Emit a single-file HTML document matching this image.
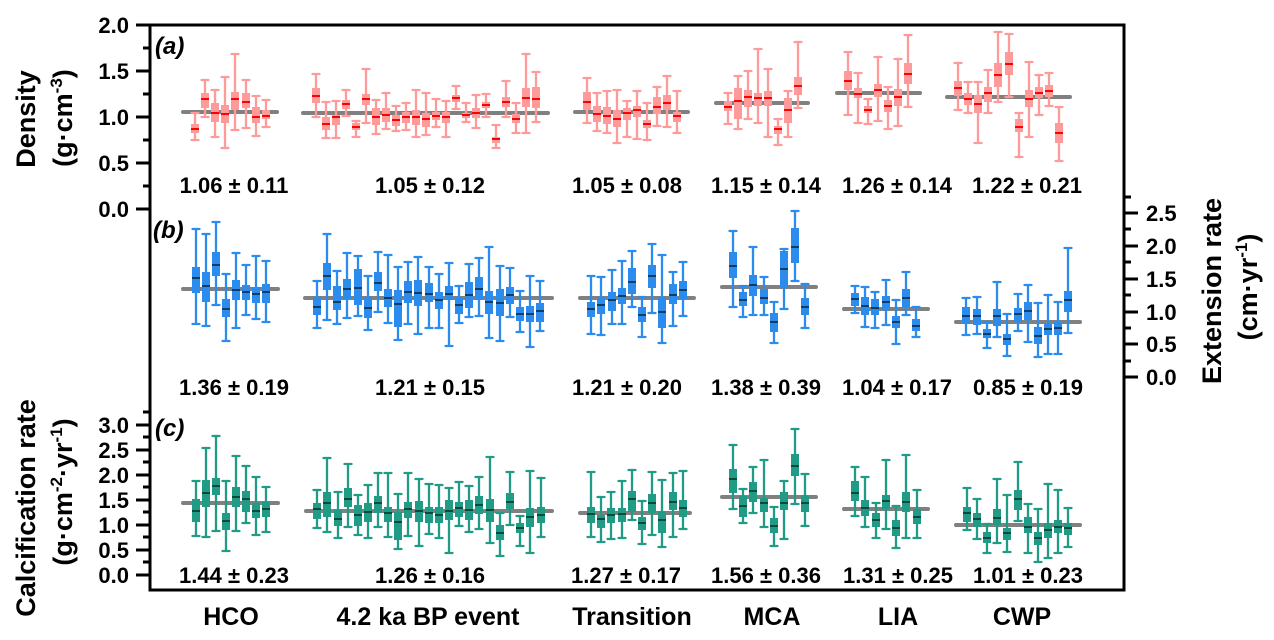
<!DOCTYPE html>
<html><head><meta charset="utf-8"><style>
html,body{margin:0;padding:0;background:#fff;}
svg{display:block;}
text{font-family:"Liberation Sans",Arial,sans-serif;font-weight:bold;fill:#000;}
.t{font-size:22px;}
.tx{font-size:25px;}
.ti{font-size:27px;}
.pl{font-size:24px;font-style:italic;}
.g{stroke:#808080;stroke-width:4;stroke-linecap:round;fill:none;}
.wa{stroke:#ff9a9a;stroke-width:2.3;fill:none;stroke-linecap:round;}
.ba{fill:#ff9a9a;}
.ma{stroke:#ff0000;stroke-width:2;fill:none;}
.wb{stroke:#2b8cee;stroke-width:2.3;fill:none;stroke-linecap:round;}
.bb{fill:#2b8cee;}
.mb{stroke:#0f3d66;stroke-width:2;fill:none;}
.wc{stroke:#1f9b86;stroke-width:2.3;fill:none;stroke-linecap:round;}
.bc{fill:#1f9b86;}
.mc{stroke:#0a4a3b;stroke-width:2;fill:none;}
</style></head><body>
<svg width="1274" height="640" viewBox="0 0 1274 640" xmlns="http://www.w3.org/2000/svg">
<rect x="0" y="0" width="1274" height="640" fill="#fff"/>

<!-- mean lines -->
<path class="g" d="M183 112H277M303 113H548M575 112H688M716 103H808M837 93H920M947 97H1070"/>
<path class="g" d="M183 289H278M305 298H552M580 298H694M722 287H816M844 309H928M956 322H1080"/>
<path class="g" d="M183 503H278M306 511H552M580 513H690M722 497H816M844 509H928M956 525H1080"/>

<!-- Panel a -->
<path class="wa" d="M195 113V140M191.5 113h7M191.5 140h7M205 80V117M201.5 80h7M201.5 117h7M215 90V137M211.5 90h7M211.5 137h7M225 77V148M221.5 77h7M221.5 148h7M235 54V130M231.5 54h7M231.5 130h7M246 80V128M242.5 80h7M242.5 128h7M256 96V136M252.5 96h7M252.5 136h7M266 100V127M262.5 100h7M262.5 127h7
M316 74V117M312.5 74h7M312.5 117h7M326 102V138M322.5 102h7M322.5 138h7M336 101V138M332.5 101h7M332.5 138h7M346 90V116M342.5 90h7M342.5 116h7M356 121V137M352.5 121h7M352.5 137h7M366 69V123M362.5 69h7M362.5 123h7M376 100V134M372.5 100h7M372.5 134h7M386 93V129M382.5 93h7M382.5 129h7M396 106V131M392.5 106h7M392.5 131h7M406 103V130M402.5 103h7M402.5 130h7M416 90V137M412.5 90h7M412.5 137h7M426 93V135M422.5 93h7M422.5 135h7M436 99V127M432.5 99h7M432.5 127h7M446 101V137M442.5 101h7M442.5 137h7M456 86V109M452.5 86h7M452.5 109h7M466 103V122M462.5 103h7M462.5 122h7M476 95V128M472.5 95h7M472.5 128h7M486 94V117M482.5 94h7M482.5 117h7M496 125V148M492.5 125h7M492.5 148h7M506 81V117M502.5 81h7M502.5 117h7M516 103V133M512.5 103h7M512.5 133h7M526 54V133M522.5 54h7M522.5 133h7M536 72V122M532.5 72h7M532.5 122h7
M587 78V123M583.5 78h7M583.5 123h7M597 93V131M593.5 93h7M593.5 131h7M607 91V133M603.5 91h7M603.5 133h7M617 90V143M613.5 90h7M613.5 143h7M627 101V137M623.5 101h7M623.5 137h7M637 91V139M633.5 91h7M633.5 139h7M647 103V140M643.5 103h7M643.5 140h7M657 87V126M653.5 87h7M653.5 126h7M667 76V127M663.5 76h7M663.5 127h7M677 91V133M673.5 91h7M673.5 133h7
M728 93V124M724.5 93h7M724.5 124h7M738 76V129M734.5 76h7M734.5 129h7M748 71V119M744.5 71h7M744.5 119h7M758 49V123M754.5 49h7M754.5 123h7M768 69V137M764.5 69h7M764.5 137h7M778 119V145M774.5 119h7M774.5 145h7M788 91V137M784.5 91h7M784.5 137h7M798 42V108M794.5 42h7M794.5 108h7
M848 52V115M844.5 52h7M844.5 115h7M858 73V123M854.5 73h7M854.5 123h7M868 99V124M864.5 99h7M864.5 124h7M878 57V121M874.5 57h7M874.5 121h7M888 87V129M884.5 87h7M884.5 129h7M898 59V126M894.5 59h7M894.5 126h7M908 35V107M904.5 35h7M904.5 107h7
M958 63V110M954.5 63h7M954.5 110h7M968 82V113M964.5 82h7M964.5 113h7M978 82V143M974.5 82h7M974.5 143h7M988 70V113M984.5 70h7M984.5 113h7M998 32V102M994.5 32h7M994.5 102h7M1009 34V97M1005.5 34h7M1005.5 97h7M1019 113V157M1015.5 113h7M1015.5 157h7M1029 62V137M1025.5 62h7M1025.5 137h7M1039 75V115M1035.5 75h7M1035.5 115h7M1049 73V106M1045.5 73h7M1045.5 106h7M1059 107V161M1055.5 107h7M1055.5 161h7"/>
<path class="ba" d="M191 124h8V133h-8zM201 93h8V108h-8zM211 103h8V122h-8zM221 105h8V123h-8zM231 92h8V110h-8zM242 93h8V108h-8zM252 107h8V123h-8zM262 110h8V119h-8z
M312 88h8V103h-8zM322 117h8V130h-8zM332 115h8V125h-8zM342 100h8V109h-8zM352 123h8V130h-8zM362 94h8V105h-8zM372 108h8V125h-8zM382 108h8V122h-8zM392 115h8V126h-8zM402 112h8V123h-8zM412 110h8V125h-8zM422 113h8V127h-8zM432 112h8V120h-8zM442 112h8V123h-8zM452 95h8V102h-8zM462 113h8V118h-8zM472 108h8V118h-8zM482 102h8V108h-8zM492 137h8V143h-8zM502 97h8V107h-8zM512 114h8V123h-8zM522 88h8V107h-8zM532 87h8V108h-8z
M583 92h8V110h-8zM593 106h8V122h-8zM603 107h8V124h-8zM613 110h8V127h-8zM623 108h8V120h-8zM633 106h8V117h-8zM643 120h8V128h-8zM653 97h8V114h-8zM663 95h8V110h-8zM673 112h8V122h-8z
M724 101h8V111h-8zM734 88h8V119h-8zM744 90h8V107h-8zM754 93h8V106h-8zM764 91h8V106h-8zM774 126h8V134h-8zM784 98h8V123h-8zM794 77h8V95h-8z
M844 71h8V90h-8zM854 88h8V98h-8zM864 106h8V113h-8zM874 84h8V97h-8zM884 100h8V112h-8zM894 89h8V106h-8zM904 63h8V84h-8z
M954 81h8V96h-8zM964 93h8V105h-8zM974 95h8V113h-8zM984 87h8V102h-8zM994 63h8V87h-8zM1005 52h8V75h-8zM1015 119h8V132h-8zM1025 90h8V107h-8zM1035 87h8V98h-8zM1045 85h8V97h-8zM1055 123h8V143h-8z"/>
<path class="ma" d="M191 129h8M201 99h8M211 113h8M221 114h8M231 99h8M242 102h8M252 117h8M262 116h8
M312 96h8M322 124h8M332 117h8M342 104h8M352 127h8M362 99h8M372 117h8M382 115h8M392 120h8M402 117h8M412 117h8M422 119h8M432 116h8M442 117h8M452 98h8M462 115h8M472 113h8M482 105h8M492 139h8M502 102h8M512 119h8M522 98h8M532 99h8
M583 102h8M593 114h8M603 116h8M613 119h8M623 113h8M633 110h8M643 124h8M653 107h8M663 103h8M673 116h8
M724 107h8M734 101h8M744 97h8M754 98h8M764 98h8M774 129h8M784 110h8M794 86h8
M844 81h8M854 94h8M864 110h8M874 90h8M884 106h8M894 97h8M904 74h8
M954 88h8M964 99h8M974 104h8M984 93h8M994 75h8M1005 64h8M1015 127h8M1025 99h8M1035 93h8M1045 91h8M1055 133h8"/>

<!-- Panel b -->
<path class="wb" d="M196 229V324M192.5 229h7M192.5 324h7M206 234V326M202.5 234h7M202.5 326h7M216 222V305M212.5 222h7M212.5 305h7M226 274V341M222.5 274h7M222.5 341h7M236 253V328M232.5 253h7M232.5 328h7M246 265V315M242.5 265h7M242.5 315h7M256 256V319M252.5 256h7M252.5 319h7M266 261V322M262.5 261h7M262.5 322h7
M317 281V328M313.5 281h7M313.5 328h7M327 234V320M323.5 234h7M323.5 320h7M337 271V324M333.5 271h7M333.5 324h7M347 253V318M343.5 253h7M343.5 318h7M358 256V316M354.5 256h7M354.5 316h7M368 276V330M364.5 276h7M364.5 330h7M378 252V312M374.5 252h7M374.5 312h7M388 255V323M384.5 255h7M384.5 323h7M398 267V340M394.5 267h7M394.5 340h7M408 262V324M404.5 262h7M404.5 324h7M418 257V334M414.5 257h7M414.5 334h7M429 267V328M425.5 267h7M425.5 328h7M439 274V328M435.5 274h7M435.5 328h7M449 263V346M445.5 263h7M445.5 346h7M459 286V323M455.5 286h7M455.5 323h7M469 264V317M465.5 264h7M465.5 317h7M479 258V316M475.5 258h7M475.5 316h7M489 247V338M485.5 247h7M485.5 338h7M500 266V341M496.5 266h7M496.5 341h7M510 268V317M506.5 268h7M506.5 317h7M520 291V332M516.5 291h7M516.5 332h7M530 276V347M526.5 276h7M526.5 347h7M540 281V331M536.5 281h7M536.5 331h7
M591 276V334M587.5 276h7M587.5 334h7M601 277V335M597.5 277h7M597.5 335h7M612 270V324M608.5 270h7M608.5 324h7M622 261V324M618.5 261h7M618.5 324h7M632 251V307M628.5 251h7M628.5 307h7M642 297V337M638.5 297h7M638.5 337h7M652 244V313M648.5 244h7M648.5 313h7M662 255V343M658.5 255h7M658.5 343h7M673 272V326M669.5 272h7M669.5 326h7M683 262V316M679.5 262h7M679.5 316h7
M733 231V307M729.5 231h7M729.5 307h7M743 286V317M739.5 286h7M739.5 317h7M753 247V315M749.5 247h7M749.5 315h7M764 277V315M760.5 277h7M760.5 315h7M774 302V343M770.5 302h7M770.5 343h7M784 249V309M780.5 249h7M780.5 309h7M795 211V281M791.5 211h7M791.5 281h7M805 284V328M801.5 284h7M801.5 328h7
M855 286V313M851.5 286h7M851.5 313h7M865 287V327M861.5 287h7M861.5 327h7M875 292V328M871.5 292h7M871.5 328h7M886 280V325M882.5 280h7M882.5 325h7M896 300V344M892.5 300h7M892.5 344h7M906 272V315M902.5 272h7M902.5 315h7M916 307V337M912.5 307h7M912.5 337h7
M966 298V335M962.5 298h7M962.5 335h7M977 297V334M973.5 297h7M973.5 334h7M987 322V348M983.5 322h7M983.5 348h7M997 282V337M993.5 282h7M993.5 337h7M1007 314V356M1003.5 314h7M1003.5 356h7M1018 294V331M1014.5 294h7M1014.5 331h7M1028 285V342M1024.5 285h7M1024.5 342h7M1038 303V357M1034.5 303h7M1034.5 357h7M1048 295V354M1044.5 295h7M1044.5 354h7M1058 302V354M1054.5 302h7M1054.5 354h7M1068 248V333M1064.5 248h7M1064.5 333h7"/>
<path class="bb" d="M192 267h8V293h-8zM202 272h8V302h-8zM212 252h8V276h-8zM222 299h8V317h-8zM232 280h8V300h-8zM242 285h8V300h-8zM252 287h8V303h-8zM262 284h8V303h-8z
M313 297h8V315h-8zM323 263h8V290h-8zM333 286h8V310h-8zM343 279h8V299h-8zM354 269h8V305h-8zM364 297h8V318h-8zM374 272h8V291h-8zM384 289h8V307h-8zM394 290h8V327h-8zM404 281h8V303h-8zM414 280h8V306h-8zM425 283h8V302h-8zM435 292h8V309h-8zM445 286h8V300h-8zM455 297h8V314h-8zM465 282h8V308h-8zM475 277h8V300h-8zM485 291h8V314h-8zM496 289h8V316h-8zM506 287h8V304h-8zM516 307h8V321h-8zM526 306h8V322h-8zM536 303h8V322h-8z
M587 302h8V317h-8zM597 297h8V314h-8zM608 292h8V311h-8zM618 288h8V304h-8zM628 268h8V294h-8zM638 307h8V322h-8zM648 265h8V288h-8zM658 297h8V328h-8zM669 284h8V304h-8zM679 281h8V299h-8z
M729 252h8V278h-8zM739 292h8V306h-8zM749 275h8V296h-8zM760 289h8V304h-8zM770 313h8V332h-8zM780 251h8V288h-8zM791 228h8V263h-8zM801 298h8V315h-8z
M851 293h8V306h-8zM861 297h8V315h-8zM871 299h8V315h-8zM882 296h8V310h-8zM892 316h8V328h-8zM902 289h8V307h-8zM912 319h8V331h-8z
M962 307h8V324h-8zM973 309h8V325h-8zM983 329h8V338h-8zM993 309h8V326h-8zM1003 334h8V345h-8zM1014 308h8V322h-8zM1024 302h8V320h-8zM1034 327h8V344h-8zM1044 324h8V335h-8zM1054 322h8V335h-8zM1064 291h8V312h-8z"/>
<path class="mb" d="M192 278h8M202 286h8M212 265h8M222 309h8M232 290h8M242 292h8M252 294h8M262 292h8
M313 307h8M323 276h8M333 302h8M343 289h8M354 288h8M364 308h8M374 283h8M384 298h8M394 304h8M404 292h8M414 293h8M425 294h8M435 300h8M445 294h8M455 305h8M465 295h8M475 289h8M485 302h8M496 303h8M506 295h8M516 314h8M526 314h8M536 311h8
M587 309h8M597 305h8M608 300h8M618 296h8M628 282h8M638 315h8M648 276h8M658 312h8M669 295h8M679 290h8
M729 266h8M739 300h8M749 285h8M760 298h8M770 322h8M780 269h8M791 247h8M801 307h8
M851 299h8M861 306h8M871 308h8M882 302h8M892 322h8M902 298h8M912 326h8
M962 316h8M973 316h8M983 334h8M993 316h8M1003 339h8M1014 314h8M1024 311h8M1034 336h8M1044 329h8M1054 328h8M1064 300h8"/>

<!-- Panel c -->
<path class="wc" d="M196 481V536M192.5 481h7M192.5 536h7M206 448V537M202.5 448h7M202.5 537h7M216 436V531M212.5 436h7M212.5 531h7M226 481V551M222.5 481h7M222.5 551h7M236 456V531M232.5 456h7M232.5 531h7M246 466V523M242.5 466h7M242.5 523h7M256 477V535M252.5 477h7M252.5 535h7M266 487V532M262.5 487h7M262.5 532h7
M317 490V528M313.5 490h7M313.5 528h7M327 458V532M323.5 458h7M323.5 532h7M338 492V538M334.5 492h7M334.5 538h7M348 464V527M344.5 464h7M344.5 527h7M358 495V535M354.5 495h7M354.5 535h7M368 485V538M364.5 485h7M364.5 538h7M378 473V527M374.5 473h7M374.5 527h7M388 473V537M384.5 473h7M384.5 537h7M398 494V549M394.5 494h7M394.5 549h7M408 473V536M404.5 473h7M404.5 536h7M419 479V546M415.5 479h7M415.5 546h7M429 484V534M425.5 484h7M425.5 534h7M439 485V538M435.5 485h7M435.5 538h7M449 488V553M445.5 488h7M445.5 553h7M459 482V526M455.5 482h7M455.5 526h7M469 486V532M465.5 486h7M465.5 532h7M479 477V529M475.5 477h7M475.5 529h7M490 457V543M486.5 457h7M486.5 543h7M500 513V556M496.5 513h7M496.5 556h7M510 472V525M506.5 472h7M506.5 525h7M520 516V546M516.5 516h7M516.5 546h7M530 471V553M526.5 471h7M526.5 553h7M541 478V537M537.5 478h7M537.5 537h7
M591 472V537M587.5 472h7M587.5 537h7M601 497V542M597.5 497h7M597.5 542h7M611 492V539M607.5 492h7M607.5 539h7M622 481V538M618.5 481h7M618.5 538h7M632 470V520M628.5 470h7M628.5 520h7M642 501V544M638.5 501h7M638.5 544h7M652 472V535M648.5 472h7M648.5 535h7M662 480V547M658.5 480h7M658.5 547h7M673 473V537M669.5 473h7M669.5 537h7M683 471V529M679.5 471h7M679.5 529h7
M733 445V509M729.5 445h7M729.5 509h7M743 489V523M739.5 489h7M739.5 523h7M753 467V513M749.5 467h7M749.5 513h7M764 460V527M760.5 460h7M760.5 527h7M774 507V546M770.5 507h7M770.5 546h7M784 481V539M780.5 481h7M780.5 539h7M795 429V504M791.5 429h7M791.5 504h7M805 474V526M801.5 474h7M801.5 526h7
M855 467V516M851.5 467h7M851.5 516h7M865 477V527M861.5 477h7M861.5 527h7M876 503V538M872.5 503h7M872.5 538h7M886 460V529M882.5 460h7M882.5 529h7M896 506V548M892.5 506h7M892.5 548h7M906 455V538M902.5 455h7M902.5 538h7M917 490V538M913.5 490h7M913.5 538h7
M967 488V530M963.5 488h7M963.5 530h7M977 499V539M973.5 499h7M973.5 539h7M987 524V553M983.5 524h7M983.5 553h7M997 479V543M993.5 479h7M993.5 543h7M1007 495V552M1003.5 495h7M1003.5 552h7M1018 462V521M1014.5 462h7M1014.5 521h7M1028 504V553M1024.5 504h7M1024.5 553h7M1038 509V562M1034.5 509h7M1034.5 562h7M1048 484V558M1044.5 484h7M1044.5 558h7M1058 490V553M1054.5 490h7M1054.5 553h7M1068 508V547M1064.5 508h7M1064.5 547h7"/>
<path class="bc" d="M192 499h8V522h-8zM202 480h8V507h-8zM212 478h8V495h-8zM222 513h8V530h-8zM232 487h8V507h-8zM242 491h8V512h-8zM252 503h8V518h-8zM262 502h8V517h-8z
M313 503h8V519h-8zM323 492h8V517h-8zM334 510h8V526h-8zM344 488h8V507h-8zM354 505h8V526h-8zM364 503h8V522h-8zM374 496h8V513h-8zM384 507h8V522h-8zM394 512h8V540h-8zM404 502h8V518h-8zM415 501h8V522h-8zM425 507h8V523h-8zM435 507h8V523h-8zM445 500h8V520h-8zM455 502h8V517h-8zM465 500h8V520h-8zM475 496h8V514h-8zM486 499h8V522h-8zM496 525h8V540h-8zM506 493h8V509h-8zM516 523h8V533h-8zM526 508h8V527h-8zM537 507h8V523h-8z
M587 507h8V523h-8zM597 515h8V528h-8zM607 508h8V523h-8zM618 508h8V522h-8zM628 491h8V512h-8zM638 517h8V530h-8zM648 494h8V513h-8zM658 511h8V533h-8zM669 492h8V510h-8zM679 500h8V517h-8z
M729 469h8V493h-8zM739 496h8V517h-8zM749 482h8V502h-8zM760 498h8V512h-8zM770 518h8V533h-8zM780 492h8V510h-8zM791 454h8V476h-8zM801 495h8V512h-8z
M851 481h8V501h-8zM861 500h8V516h-8zM872 513h8V527h-8zM882 495h8V509h-8zM892 520h8V536h-8zM902 492h8V512h-8zM913 509h8V524h-8z
M963 507h8V522h-8zM973 513h8V527h-8zM983 532h8V543h-8zM993 509h8V525h-8zM1003 528h8V540h-8zM1014 490h8V510h-8zM1024 517h8V533h-8zM1034 532h8V545h-8zM1044 523h8V538h-8zM1054 520h8V533h-8zM1064 523h8V535h-8z"/>
<path class="mc" d="M192 511h8M202 493h8M212 486h8M222 521h8M232 497h8M242 499h8M252 511h8M262 509h8
M313 509h8M323 503h8M334 519h8M344 499h8M354 515h8M364 512h8M374 503h8M384 513h8M394 522h8M404 509h8M415 511h8M425 513h8M435 515h8M445 511h8M455 508h8M465 510h8M475 505h8M486 510h8M496 533h8M506 502h8M516 528h8M526 517h8M537 515h8
M587 514h8M597 519h8M607 515h8M618 514h8M628 499h8M638 523h8M648 503h8M658 520h8M669 502h8M679 508h8
M729 479h8M739 506h8M749 491h8M760 503h8M770 526h8M780 503h8M791 466h8M801 503h8
M851 493h8M861 508h8M872 520h8M882 501h8M892 528h8M902 502h8M913 517h8
M963 513h8M973 519h8M983 538h8M993 518h8M1003 533h8M1014 499h8M1024 527h8M1034 538h8M1044 530h8M1054 527h8M1064 528h8"/>

<!-- frame and axes -->
<rect x="150" y="25" width="974" height="565" fill="none" stroke="#000" stroke-width="3"/>
<path stroke="#000" stroke-width="3" fill="none" d="M136 25H150M143 48H150M136 71H150M143 94H150M136 117H150M143 140H150M136 163H150M143 186H150M136 209H150
M143 412H150M136 425H150M143 437H150M136 450H150M143 462H150M136 475H150M143 487H150M136 500H150M143 512H150M136 525H150M143 537H150M136 550H150M143 562H150M136 575H150
M1124 197H1131M1124 213H1138M1124 229H1131M1124 246H1138M1124 262H1131M1124 279H1138M1124 295H1131M1124 312H1138M1124 328H1131M1124 344H1138M1124 361H1131M1124 377H1138"/>

<!-- left tick labels -->
<g class="t" text-anchor="end">
<text x="129" y="33">2.0</text>
<text x="129" y="79">1.5</text>
<text x="129" y="125">1.0</text>
<text x="129" y="171">0.5</text>
<text x="129" y="217">0.0</text>
<text x="129" y="433">3.0</text>
<text x="129" y="458">2.5</text>
<text x="129" y="483">2.0</text>
<text x="129" y="508">1.5</text>
<text x="129" y="533">1.0</text>
<text x="129" y="558">0.5</text>
<text x="129" y="583">0.0</text>
</g>
<g class="t" text-anchor="start">
<text x="1146" y="221">2.5</text>
<text x="1146" y="254">2.0</text>
<text x="1146" y="287">1.5</text>
<text x="1146" y="320">1.0</text>
<text x="1146" y="352">0.5</text>
<text x="1146" y="385">0.0</text>
</g>

<!-- axis titles -->
<g class="ti" text-anchor="middle">
<text transform="translate(35,119) rotate(-90)">Density</text>
<text transform="translate(72,118) rotate(-90)">(g·cm<tspan font-size="17" dy="-10">-3</tspan><tspan dy="10">)</tspan></text>
<text transform="translate(35,508) rotate(-90)">Calcification rate</text>
<text transform="translate(72,492) rotate(-90)">(g·cm<tspan font-size="17" dy="-10">-2</tspan><tspan dy="10">·yr</tspan><tspan font-size="17" dy="-10">-1</tspan><tspan dy="10">)</tspan></text>
<text transform="translate(1221,291) rotate(-90)">Extension rate</text>
<text transform="translate(1257,287) rotate(-90)">(cm·yr<tspan font-size="17" dy="-10">-1</tspan><tspan dy="10">)</tspan></text>
</g>

<!-- panel labels -->
<text class="pl" x="155" y="54">(a)</text>
<text class="pl" x="153" y="238">(b)</text>
<text class="pl" x="155" y="436">(c)</text>

<!-- stats -->
<g class="t" text-anchor="middle">
<text x="234" y="193">1.06 ± 0.11</text>
<text x="430" y="193">1.05 ± 0.12</text>
<text x="627" y="193">1.05 ± 0.08</text>
<text x="766" y="193">1.15 ± 0.14</text>
<text x="897" y="193">1.26 ± 0.14</text>
<text x="1027" y="193">1.22 ± 0.21</text>
<text x="234" y="395">1.36 ± 0.19</text>
<text x="430" y="395">1.21 ± 0.15</text>
<text x="627" y="395">1.21 ± 0.20</text>
<text x="766" y="395">1.38 ± 0.39</text>
<text x="897" y="395">1.04 ± 0.17</text>
<text x="1028" y="395">0.85 ± 0.19</text>
<text x="234" y="583">1.44 ± 0.23</text>
<text x="430" y="583">1.26 ± 0.16</text>
<text x="626" y="583">1.27 ± 0.17</text>
<text x="766" y="583">1.56 ± 0.36</text>
<text x="898" y="583">1.31 ± 0.25</text>
<text x="1028" y="583">1.01 ± 0.23</text>
</g>

<!-- x labels -->
<g class="tx" text-anchor="middle">
<text x="231" y="625">HCO</text>
<text x="428" y="625">4.2 ka BP event</text>
<text x="632" y="625">Transition</text>
<text x="772" y="625">MCA</text>
<text x="898" y="625">LIA</text>
<text x="1022" y="625">CWP</text>
</g>
</svg>
</body></html>
